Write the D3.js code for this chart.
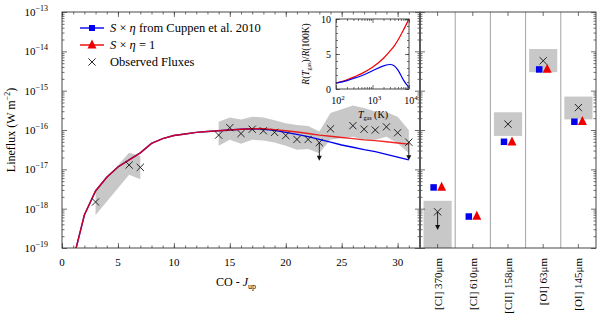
<!DOCTYPE html>
<html lang="en">
<head>
<meta charset="UTF-8">
<script src="https://d3js.org/d3.v7.min.js"></script>
<style>
  body { margin: 0; background: #fff; }
  svg { font-family: "Liberation Serif", "DejaVu Serif", serif; }
  .frame { fill: none; stroke: #333; stroke-width: 0.9; }
  .tick line { stroke: #333; stroke-width: 0.7; }
  .domain { display: none; }
</style>
</head>
<body>
<div id="chart"></div>
<script>
// ---- data (fluxes as log10 W m^-2) ----
const modelJ  = [1,2,3,4,5,6,7,8,9,10,11,12,13,14,15,16,17,18,19,20,21,22,23,24,25,26,27,28,29,30,31];
const cuppen  = [-19.3,-18.16,-17.55,-17.2,-16.94,-16.76,-16.58,-16.34,-16.22,-16.14,-16.1,-16.06,-16.04,-16.02,-16.0,-15.98,-15.97,-15.98,-16.01,-16.06,-16.11,-16.17,-16.24,-16.31,-16.38,-16.44,-16.5,-16.55,-16.62,-16.69,-16.76];
const unity   = [-19.3,-18.16,-17.55,-17.2,-16.94,-16.76,-16.58,-16.34,-16.22,-16.14,-16.1,-16.06,-16.04,-16.02,-16.0,-15.98,-15.97,-15.97,-15.99,-16.02,-16.05,-16.09,-16.13,-16.16,-16.19,-16.22,-16.25,-16.27,-16.3,-16.33,-16.36];

const obsJ    = [3,6,7,14,15,16,17,18,19,20,21,22,23,24,26,27,28,29,30,31];
const obsFlux = [-17.83,-16.89,-16.95,-16.13,-15.94,-16.09,-15.98,-16.02,-16.06,-16.14,-16.24,-16.24,-16.32,-15.97,-15.89,-15.98,-16.0,-15.92,-16.07,-16.31];
const obsHi   = [-17.53,-16.58,-16.66,-15.79,-15.68,-15.73,-15.66,-15.68,-15.75,-15.83,-15.87,-15.9,-16.04,-15.57,-15.38,-15.44,-15.53,-15.55,-15.66,-16.0];
const obsLo   = [-18.16,-17.14,-17.25,-16.4,-16.25,-16.35,-16.25,-16.27,-16.32,-16.4,-16.5,-16.48,-16.59,-16.24,-16.17,-16.25,-16.25,-16.17,-16.34,-16.59];
const upperLimJ = [23,31];

const lineNames   = ["[CI] 370μm","[CI] 610μm","[CII] 158μm","[OI] 63μm","[OI] 145μm"];
const lineCuppen  = [-17.46,-18.2,-16.3,-14.46,-15.79];
const lineUnity   = [-17.45,-18.19,-16.3,-14.45,-15.78];
const lineObs     = [-18.08,null,-15.85,-14.24,-15.43];
const lineObsHi   = [-17.8,null,-15.55,-13.94,-15.15];
const lineObsLo   = [-19.5,null,-16.15,-14.53,-15.73];
const lineUpper   = [true,false,false,false,false];

const tgas    = [100,200,300,500,1000,2000,3000,4000,5000,7000,10000];
const rCuppen = [0.85,1.2,1.5,1.9,2.6,3.3,3.5,3.3,2.7,1.3,0.2];
const rUnity  = [0.85,1.3,1.7,2.2,3.1,4.4,5.4,6.2,7.0,8.4,10];

const yDecades = [-19,-18,-17,-16,-15,-14,-13];

// ---- setup ----
const W = 600, H = 322;
const BLUE = "#0000ee", RED = "#ee0000", GREY = "#c8c8c8";
const svg = d3.select("#chart").append("svg").attr("width", W).attr("height", H);

const x = d3.scaleLinear().domain([0, 32]).range([62, 420]);
const y = d3.scaleLog().domain([1e-19, 1e-13]).range([248, 12]);
const xr = d3.scaleBand().domain(lineNames).range([420, 596]);
const p = v => Math.pow(10, v);

svg.append("clipPath").attr("id", "clipL").append("rect")
  .attr("x", 62).attr("y", 12).attr("width", 358).attr("height", 236);

const minors = [];
yDecades.slice(0, -1).forEach(d => { for (let k = 2; k < 10; k++) minors.push(k * p(d)); });
const majors = yDecades.map(p);

// log y ticks on a vertical line, pointing inward
function yTicks(xpos, dir) {
  const mk = dir < 0 ? d3.axisLeft : d3.axisRight;
  svg.append("g").attr("transform", `translate(${xpos},0)`)
    .call(mk(y).tickValues(majors).tickSize(-5).tickFormat(""));
  svg.append("g").attr("transform", `translate(${xpos},0)`)
    .call(mk(y).tickValues(minors).tickSize(-2.5).tickFormat(""));
}

// ---- left panel ----
const gL = svg.append("g").attr("clip-path", "url(#clipL)");

// grey uncertainty bands, split where J jumps
const obsRows = obsJ.map((j, i) => ({ j, v: obsFlux[i], hi: obsHi[i], lo: obsLo[i] }));
const segs = [];
obsRows.forEach((r, i) => {
  if (i === 0 || r.j - obsRows[i - 1].j > 3) segs.push([]);
  segs[segs.length - 1].push(r);
});
const band = d3.area().x(d => x(d.j)).y0(d => y(p(d.lo))).y1(d => y(p(d.hi)));
gL.selectAll(".band").data(segs).enter().append("path")
  .attr("d", band).attr("fill", GREY).attr("stroke", "none");

const line = d3.line().x((d, i) => x(modelJ[i])).y(d => y(p(d)));
gL.append("path").attr("d", line(cuppen)).attr("fill", "none").attr("stroke", BLUE).attr("stroke-width", 1.4);
gL.append("path").attr("d", line(unity)).attr("fill", "none").attr("stroke", RED).attr("stroke-width", 1.4).attr("stroke-opacity", 0.85);

function cross(g, cx, cy) {
  const s = 3.6;
  g.append("path").attr("d", `M${cx - s},${cy - s}L${cx + s},${cy + s}M${cx - s},${cy + s}L${cx + s},${cy - s}`)
    .attr("stroke", "#111").attr("stroke-width", 0.9).attr("fill", "none");
}
function arrow(g, cx, v) {
  const y0 = y(p(v)), y1 = y(p(v - 0.46));
  g.append("line").attr("x1", cx).attr("x2", cx).attr("y1", y0).attr("y2", y1 - 4)
    .attr("stroke", "#111").attr("stroke-width", 0.9);
  g.append("path").attr("d", `M${cx - 2.5},${y1 - 5}L${cx + 2.5},${y1 - 5}L${cx},${y1}Z`).attr("fill", "#111");
}
obsRows.forEach(r => {
  cross(svg, x(r.j), y(p(r.v)));
  if (upperLimJ.includes(r.j)) arrow(svg, x(r.j), r.v);
});

// axes of left panel
svg.append("g").attr("transform", "translate(0,248)")
  .call(d3.axisBottom(x).tickValues(d3.range(0, 33, 5)).tickSize(-5).tickFormat(""));
svg.append("g").attr("transform", "translate(0,248)")
  .call(d3.axisBottom(x).tickValues(d3.range(0, 33, 1)).tickSize(-2.5).tickFormat(""));
svg.append("g").attr("transform", "translate(0,12)")
  .call(d3.axisTop(x).tickValues(d3.range(0, 33, 5)).tickSize(-5).tickFormat(""));
svg.append("g").attr("transform", "translate(0,12)")
  .call(d3.axisTop(x).tickValues(d3.range(0, 33, 1)).tickSize(-2.5).tickFormat(""));
yTicks(62, -1);
yTicks(420, 1);
svg.append("rect").attr("class", "frame").attr("x", 62).attr("y", 12).attr("width", 358).attr("height", 236);

svg.selectAll(".xlab").data(d3.range(0, 31, 5)).enter().append("text")
  .attr("x", d => x(d)).attr("y", 266).attr("text-anchor", "middle")
  .attr("font-size", 11).text(d => d);

yDecades.forEach(d => {
  const t = svg.append("text").attr("x", 48).attr("y", y(p(d)) + 4).attr("text-anchor", "end").attr("font-size", 11);
  t.append("tspan").text("10");
  t.append("tspan").attr("dy", -5).attr("font-size", 8).text("−" + Math.abs(d));
});

const xl = svg.append("text").attr("x", 236).attr("y", 286).attr("text-anchor", "middle").attr("font-size", 12);
xl.append("tspan").text("CO - ");
xl.append("tspan").attr("font-style", "italic").text("J");
xl.append("tspan").attr("dy", 3).attr("font-size", 8).text("up");

const yl = svg.append("text").attr("transform", "translate(15,130) rotate(-90)")
  .attr("text-anchor", "middle").attr("font-size", 12);
yl.append("tspan").text("Lineflux (W m");
yl.append("tspan").attr("dy", -5).attr("font-size", 8).text("−2");
yl.append("tspan").attr("dy", 5).text(")");

// legend
function square(g, cx, cy, s) {
  g.append("rect").attr("x", cx - s / 2).attr("y", cy - s / 2).attr("width", s).attr("height", s).attr("fill", BLUE);
}
function tri(g, cx, cy, s) {
  g.append("path").attr("d", `M${cx},${cy - s * 0.6}L${cx + s / 2},${cy + s * 0.4}L${cx - s / 2},${cy + s * 0.4}Z`).attr("fill", RED);
}
const lg = svg.append("g");
lg.append("line").attr("x1", 80).attr("x2", 104).attr("y1", 28).attr("y2", 28).attr("stroke", BLUE).attr("stroke-width", 1.4);
square(lg, 92, 28, 6);
lg.append("line").attr("x1", 80).attr("x2", 104).attr("y1", 45).attr("y2", 45).attr("stroke", RED).attr("stroke-width", 1.4);
tri(lg, 92, 45, 9);
cross(lg, 92, 62);
const lt1 = lg.append("text").attr("x", 110).attr("y", 32).attr("font-size", 12.5);
lt1.append("tspan").attr("font-style", "italic").text("S");
lt1.append("tspan").text(" × ");
lt1.append("tspan").attr("font-style", "italic").text("η");
lt1.append("tspan").text(" from Cuppen et al. 2010");
const lt2 = lg.append("text").attr("x", 110).attr("y", 49).attr("font-size", 12.5);
lt2.append("tspan").attr("font-style", "italic").text("S");
lt2.append("tspan").text(" × ");
lt2.append("tspan").attr("font-style", "italic").text("η");
lt2.append("tspan").text(" = 1");
lg.append("text").attr("x", 110).attr("y", 66).attr("font-size", 12.5).text("Observed Fluxes");

// ---- inset ----
const xi = d3.scaleLog().domain([100, 10000]).range([336, 409]);
const yi = d3.scaleLinear().domain([0, 10]).range([89, 19]);
svg.append("rect").attr("x", 336).attr("y", 19).attr("width", 73).attr("height", 70).attr("fill", "#fff");
const iline = d3.line().x((d, i) => xi(tgas[i])).y(d => yi(d)).curve(d3.curveMonotoneX);
svg.append("path").attr("d", iline(rUnity)).attr("fill", "none").attr("stroke", RED).attr("stroke-width", 1.2);
svg.append("path").attr("d", iline(rCuppen)).attr("fill", "none").attr("stroke", BLUE).attr("stroke-width", 1.2);
const iMinor = [];
[100, 1000].forEach(d => { for (let k = 2; k < 10; k++) iMinor.push(k * d); });
[[89, d3.axisBottom], [19, d3.axisTop]].forEach(([yy, ax]) => {
  svg.append("g").attr("transform", `translate(0,${yy})`).call(ax(xi).tickValues([100, 1000, 10000]).tickSize(-4).tickFormat(""));
  svg.append("g").attr("transform", `translate(0,${yy})`).call(ax(xi).tickValues(iMinor).tickSize(-2).tickFormat(""));
});
[[336, d3.axisLeft], [409, d3.axisRight]].forEach(([xx, ax]) => {
  svg.append("g").attr("transform", `translate(${xx},0)`).call(ax(yi).tickValues([0, 5, 10]).tickSize(-4).tickFormat(""));
  svg.append("g").attr("transform", `translate(${xx},0)`).call(ax(yi).tickValues(d3.range(0, 10.1, 1)).tickSize(-2).tickFormat(""));
});
svg.append("rect").attr("class", "frame").attr("x", 336).attr("y", 19).attr("width", 73).attr("height", 70);
[0, 5, 10].forEach(d => svg.append("text").attr("x", 331).attr("y", yi(d) + 3.5)
  .attr("text-anchor", "end").attr("font-size", 10).text(d));
[100, 1000, 10000].forEach(d => {
  const t = svg.append("text").attr("x", xi(d) + 2).attr("y", 104).attr("text-anchor", "middle").attr("font-size", 10);
  t.append("tspan").text("10");
  t.append("tspan").attr("dy", -4).attr("font-size", 7).text(Math.round(Math.log10(d)));
});
const ixl = svg.append("text").attr("x", 373).attr("y", 118).attr("text-anchor", "middle").attr("font-size", 10);
ixl.append("tspan").attr("font-style", "italic").text("T");
ixl.append("tspan").attr("dy", 2).attr("font-size", 6).text("gas");
ixl.append("tspan").attr("dy", -2).text(" (K)");
const iyl = svg.append("text").attr("transform", "translate(309,54) rotate(-90)").attr("text-anchor", "middle").attr("font-size", 9.5);
iyl.append("tspan").attr("font-style", "italic").text("R");
iyl.append("tspan").text("(");
iyl.append("tspan").attr("font-style", "italic").text("T");
iyl.append("tspan").attr("dy", 2).attr("font-size", 6).text("gas");
iyl.append("tspan").attr("dy", -2).text(")/");
iyl.append("tspan").attr("font-style", "italic").text("R");
iyl.append("tspan").text("(100K)");

// ---- right panel ----
const gR = svg.append("g");
const bw = xr.bandwidth();
lineNames.forEach((n, i) => {
  const cx = xr(n) + bw / 2;
  if (i > 0) gR.append("line").attr("x1", xr(n)).attr("x2", xr(n)).attr("y1", 12).attr("y2", 248)
    .attr("stroke", "#999").attr("stroke-width", 0.9);
  if (lineObs[i] !== null) {
    const top = y(p(lineObsHi[i])), bot = Math.min(248, y(p(lineObsLo[i])));
    gR.append("rect").attr("x", cx - bw * 0.4).attr("width", bw * 0.8)
      .attr("y", top).attr("height", bot - top).attr("fill", GREY);
  }
});
lineNames.forEach((n, i) => {
  const cx = xr(n) + bw / 2;
  square(gR, cx - 4, y(p(lineCuppen[i])), 6.5);
  tri(gR, cx + 4, y(p(lineUnity[i])), 9);
  if (lineObs[i] !== null) {
    cross(gR, cx, y(p(lineObs[i])));
    if (lineUpper[i]) arrow(gR, cx, lineObs[i]);
  }
  svg.append("text").attr("transform", `translate(${cx + 4},258) rotate(-90)`)
    .attr("text-anchor", "end").attr("font-size", 11).text(n);
});
const cxs = lineNames.map(n => xr(n) + bw / 2);
cxs.forEach(cx => {
  svg.append("line").attr("x1", cx).attr("x2", cx).attr("y1", 248).attr("y2", 244).attr("stroke", "#333").attr("stroke-width", 0.7);
  svg.append("line").attr("x1", cx).attr("x2", cx).attr("y1", 12).attr("y2", 16).attr("stroke", "#333").attr("stroke-width", 0.7);
});
yTicks(420, -1);
yTicks(596, 1);
svg.append("rect").attr("class", "frame").attr("x", 420).attr("y", 12).attr("width", 176).attr("height", 236);
svg.append("line").attr("x1", 420).attr("x2", 420).attr("y1", 12).attr("y2", 248).attr("stroke", "#555").attr("stroke-width", 1.6);
</script>
</body>
</html>
